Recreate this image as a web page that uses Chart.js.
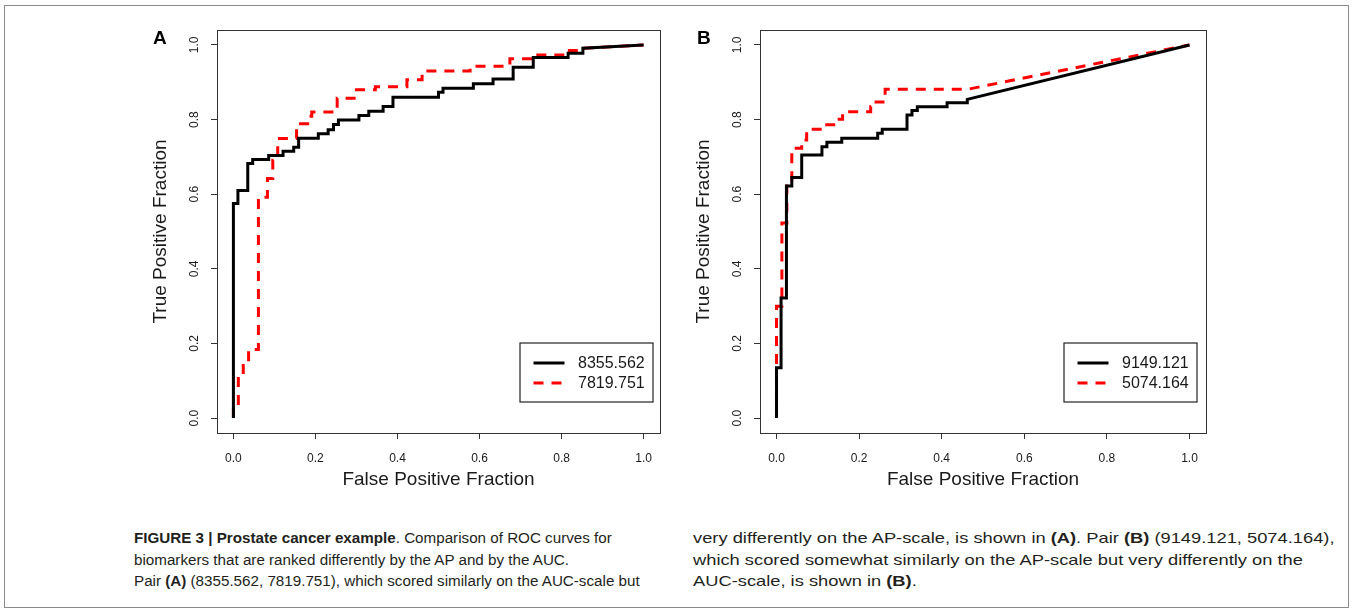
<!DOCTYPE html>
<html><head><meta charset="utf-8">
<script src="https://cdn.jsdelivr.net/npm/chart.js@4.4.1/dist/chart.umd.min.js"></script>
<style>
html,body{margin:0;padding:0;background:#fff;width:1354px;height:612px;overflow:hidden;font-family:'Liberation Sans',Arial,Helvetica,sans-serif;}
#frame{position:absolute;left:4px;top:5px;width:1345px;height:603px;border:1px solid #8a8a8a;box-sizing:border-box;}
.pw{position:absolute;top:0;height:500px;}
.plabel{position:absolute;font-weight:bold;font-size:19px;line-height:19px;color:#000;}
.cap{position:absolute;font-size:15px;line-height:21.5px;color:#231f20;white-space:nowrap;}
.cap b{font-weight:bold;}
.capL{font-size:15.2px;}
.capR{transform:scaleX(1.22);transform-origin:0 0;}
</style></head><body>
<div id="frame"></div>
<div class="pw" style="left:137px;width:543px"><canvas id="cA"></canvas></div>
<div class="pw" style="left:680px;width:545px"><canvas id="cB"></canvas></div>
<div class="plabel" style="left:153px;top:27.5px">A</div>
<div class="plabel" style="left:697px;top:27.5px">B</div>
<div class="cap capL" style="left:134px;top:527px">
<div><b>FIGURE 3 | Prostate cancer example</b>. Comparison of ROC curves for</div>
<div>biomarkers that are ranked differently by the AP and by the AUC.</div>
<div>Pair <b>(A)</b> (8355.562, 7819.751), which scored similarly on the AUC-scale but</div>
</div>
<div class="cap capR" style="left:693px;top:527px">
<div>very differently on the AP-scale, is shown in <b>(A)</b>. Pair <b>(B)</b> (9149.121, 5074.164),</div>
<div>which scored somewhat similarly on the AP-scale but very differently on the</div>
<div>AUC-scale, is shown in <b>(B)</b>.</div>
</div>
<script>
// ---- data ----
const xTicks = [0.0, 0.2, 0.4, 0.6, 0.8, 1.0];
const yTicks = [0.0, 0.2, 0.4, 0.6, 0.8, 1.0];
const xTitle = 'False Positive Fraction';
const yTitle = 'True Positive Fraction';

// Panel A, biomarker 8355.562 (black, solid)
const labelA1 = '8355.562';
const fprA1 = [0,0,0.011,0.011,0.035,0.035,0.047,0.047,0.086,0.086,0.121,0.121,0.147,0.147,0.159,0.159,0.207,0.207,0.231,0.231,0.244,0.244,0.256,0.256,0.306,0.306,0.330,0.330,0.365,0.365,0.389,0.389,0.500,0.500,0.511,0.511,0.585,0.585,0.633,0.633,0.682,0.682,0.731,0.731,0.816,0.816,0.852,0.852,1.0];
const tprA1 = [0,0.575,0.575,0.610,0.610,0.682,0.682,0.693,0.693,0.704,0.704,0.715,0.715,0.726,0.726,0.750,0.750,0.762,0.762,0.773,0.773,0.787,0.787,0.799,0.799,0.811,0.811,0.822,0.822,0.835,0.835,0.860,0.860,0.873,0.873,0.884,0.884,0.896,0.896,0.909,0.909,0.940,0.940,0.966,0.966,0.978,0.978,0.991,1.0];
// Panel A, biomarker 7819.751 (red, dashed)
const labelA2 = '7819.751';
const fprA2 = [0,0,0.012,0.012,0.024,0.024,0.037,0.037,0.061,0.061,0.083,0.083,0.096,0.096,0.108,0.108,0.154,0.154,0.181,0.181,0.191,0.191,0.253,0.253,0.300,0.300,0.346,0.346,0.423,0.423,0.460,0.460,0.577,0.577,0.674,0.674,0.727,0.727,0.812,0.812,0.852,0.852,1.0];
const tprA2 = [0,0.035,0.035,0.111,0.111,0.151,0.151,0.184,0.184,0.592,0.592,0.642,0.642,0.691,0.691,0.749,0.749,0.789,0.789,0.809,0.809,0.820,0.820,0.857,0.857,0.880,0.880,0.888,0.888,0.907,0.907,0.930,0.930,0.943,0.943,0.963,0.963,0.973,0.973,0.985,0.985,0.991,1.0];

// Panel B, biomarker 9149.121 (black, solid)
const labelB1 = '9149.121';
const fprB1 = [0,0,0.011,0.011,0.024,0.024,0.037,0.037,0.061,0.061,0.110,0.110,0.122,0.122,0.158,0.158,0.245,0.245,0.256,0.256,0.316,0.316,0.328,0.328,0.341,0.341,0.413,0.413,0.462,0.462,1.0];
const tprB1 = [0,0.135,0.135,0.322,0.322,0.622,0.622,0.645,0.645,0.705,0.705,0.727,0.727,0.739,0.739,0.750,0.750,0.763,0.763,0.774,0.774,0.812,0.812,0.824,0.824,0.834,0.834,0.845,0.845,0.854,1.0];
// Panel B, biomarker 5074.164 (red, dashed)
const labelB2 = '5074.164';
const fprB2 = [0,0,0.013,0.013,0.025,0.025,0.037,0.037,0.061,0.061,0.073,0.073,0.110,0.110,0.146,0.146,0.160,0.160,0.228,0.228,0.241,0.241,0.263,0.263,0.462,1.0];
const tprB2 = [0,0.300,0.300,0.523,0.523,0.630,0.630,0.723,0.723,0.745,0.745,0.774,0.774,0.786,0.786,0.801,0.801,0.821,0.821,0.834,0.834,0.847,0.847,0.881,0.881,1.0];

// ---- drawing ----
Chart.defaults.font.family = "'Liberation Sans', Arial, Helvetica, sans-serif";
Chart.defaults.color = '#1a1a1a';

const boxPlugin = {
  id: 'rBox',
  afterDraw(chart) {
    const a = chart.chartArea, ctx = chart.ctx;
    ctx.save();
    ctx.strokeStyle = '#333';
    ctx.lineWidth = 1;
    ctx.strokeRect(Math.round(a.left) + 0.5, Math.round(a.top) + 0.5, Math.round(a.width), Math.round(a.height));
    ctx.restore();
  }
};

const legendPlugin = {
  id: 'rLegend',
  afterDatasetsDraw(chart, args, o) {
    const a = chart.chartArea, ctx = chart.ctx;
    const x1 = a.right - o.insetRight, x0 = x1 - o.width;
    const y1 = a.bottom - o.insetBottom, y0 = y1 - o.height;
    ctx.save();
    ctx.fillStyle = '#fff';
    ctx.fillRect(x0, y0, o.width, o.height);
    ctx.strokeStyle = '#222';
    ctx.lineWidth = 1.2;
    ctx.strokeRect(x0, y0, o.width, o.height);
    chart.data.datasets.forEach((ds, i) => {
      const yy = y0 + o.rowTop + i * o.rowGap;
      ctx.beginPath();
      ctx.strokeStyle = ds.borderColor;
      ctx.lineWidth = ds.borderWidth;
      ctx.setLineDash(ds.borderDash || []);
      ctx.moveTo(x0 + o.sampleX, yy);
      ctx.lineTo(x0 + o.sampleX + o.sampleW, yy);
      ctx.stroke();
      ctx.setLineDash([]);
      ctx.fillStyle = '#1a1a1a';
      ctx.font = "16px 'Liberation Sans', Arial, sans-serif";
      ctx.textBaseline = 'middle';
      ctx.textAlign = 'left';
      ctx.fillText(ds.label, x0 + o.textX, yy + 1);
    });
    ctx.restore();
  }
};

function pts(xs, ys) { return xs.map((x, i) => ({ x: x, y: ys[i] })); }

function makeChart(id, s1, s2, padRight, insetRight) {
  return new Chart(document.getElementById(id), {
    type: 'line',
    data: {
      datasets: [
        { label: s1.label, data: pts(s1.x, s1.y), borderColor: '#000000', borderWidth: 3, pointRadius: 0, tension: 0, fill: false },
        { label: s2.label, data: pts(s2.x, s2.y), borderColor: '#ff0000', borderWidth: 3, borderDash: [10, 8], pointRadius: 0, tension: 0, fill: false }
      ]
    },
    options: {
      responsive: true,
      maintainAspectRatio: false,
      animation: false,
      events: [],
      layout: { padding: { left: 0, right: padRight, top: 30, bottom: 0 } },
      plugins: {
        legend: { display: false },
        tooltip: { enabled: false },
        rLegend: { width: 133, height: 59, insetRight: insetRight, insetBottom: 31, sampleX: 13.5, sampleW: 31, textX: 58, rowTop: 20, rowGap: 20 }
      },
      scales: {
        x: {
          type: 'linear', min: -0.04, max: 1.04,
          afterBuildTicks: s => { s.ticks = xTicks.map(v => ({ value: v })); },
          afterFit: s => { s.height = 67; },
          ticks: { callback: v => Number(v).toFixed(1), font: { size: 12 }, color: '#1a1a1a', padding: 12, maxRotation: 0, autoSkip: false },
          grid: { display: true, drawOnChartArea: false, drawTicks: true, tickLength: 6, color: '#333', lineWidth: 1 },
          border: { display: false },
          title: { display: true, text: xTitle, font: { size: 19 }, color: '#1a1a1a', padding: { top: 0, bottom: 8.6 } }
        },
        y: {
          type: 'linear', min: -0.04, max: 1.04,
          afterBuildTicks: s => { s.ticks = yTicks.map(v => ({ value: v })); },
          afterFit: s => { s.width = 80; },
          ticks: { callback: v => Number(v).toFixed(1), font: { size: 12 }, color: '#1a1a1a', padding: 8, minRotation: 90, maxRotation: 90, crossAlign: 'center', autoSkip: false },
          grid: { display: true, drawOnChartArea: false, drawTicks: true, tickLength: 6, color: '#333', lineWidth: 1 },
          border: { display: false },
          title: { display: true, text: yTitle, font: { size: 19 }, color: '#1a1a1a', padding: { top: 12.5, bottom: 0 } }
        }
      }
    },
    plugins: [boxPlugin, legendPlugin]
  });
}

makeChart('cA', { label: labelA1, x: fprA1, y: tprA1 }, { label: labelA2, x: fprA2, y: tprA2 }, 20, 7);
makeChart('cB', { label: labelB1, x: fprB1, y: tprB1 }, { label: labelB2, x: fprB2, y: tprB2 }, 19, 9);
</script>
</body></html>
